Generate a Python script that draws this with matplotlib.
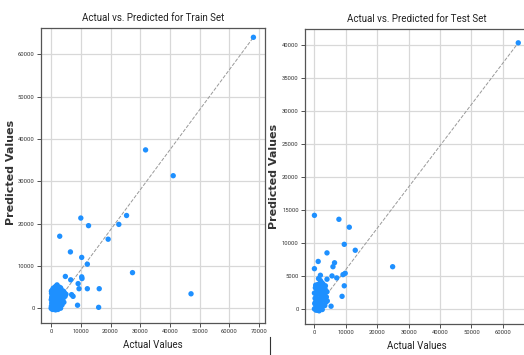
import matplotlib
matplotlib.use("Agg")
import matplotlib.pyplot as plt
from matplotlib.lines import Line2D

plt.rcParams['font.family'] = ['Roboto', 'DejaVu Sans']

# ---- Train set: outliers (actual, predicted) ----
train_actual_out = [68100, 31800, 41100, 10000, 12600, 25400, 22800, 2900, 19200, 6500,
                    10300, 12200, 27400, 4800, 6600, 10300, 10400, 9100, 9400, 12200,
                    16200, 6900, 7400, 8900, 16000, 47100]
train_pred_out = [64000, 37400, 31300, 21300, 19500, 21900, 19800, 17000, 16300, 13300,
                  12000, 10400, 8400, 7500, 6700, 7400, 7000, 5800, 4600, 4600,
                  4600, 3200, 2800, 700, 200, 3400]
# ---- Train set: dense cluster near origin ----
train_actual_cl = [0, 100, 200, 50, 300, 150, 100, 400, 600, 800, 500, 700, 900, 1000, 1200,
                   1400, 1600, 1800, 2000, 2200, 1500, 2000, 2500, 2200, 2600, 2800, 3000,
                   3200, 3500, 3800, 4200, 4500, 5000, 3000, 3500, 4000, 4700, 2400, 1100,
                   600, 300, 1300, 1700, 2700, 3400, 300, 1000, 2300, 3200, 3700, 4300, 800,
                   1600, 1900, 1300, 2100, 2900, 3300, 4000, 500, 200, 700, 2500]
train_pred_cl = [0, 500, 1200, 2000, 2800, 3500, 4000, 200, -300, 300, 1500, 2400, 3200, 800,
                 1800, 2600, 3600, 4600, 5500, 4900, -400, 300, 1000, 1800, 2700, 3500, 4300,
                 4800, 3800, 3300, 4000, 3600, 3300, 600, 1500, 2200, 2800, 4100, 4300, 3800,
                 4200, 5000, 5200, 5000, 4400, -200, -200, -300, 0, 800, 1400, 1300, 1100,
                 2100, 3000, 3200, 2300, 2900, 3000, 600, 2500, 4700, 200]

# ---- Test set: outliers ----
test_actual_out = [64900, 0, 7800, 11100, 9500, 13000, 4000, 1200, 6400, 5900, 0, 24900,
                   1900, 1300, 4000, 5600, 7100, 9100, 9800, 9500, 8800, 5300]
test_pred_out = [40400, 14200, 13600, 12400, 9800, 8900, 8500, 7200, 7000, 6400, 6100, 6400,
                 5100, 4600, 4500, 5000, 4700, 5200, 5400, 3500, 1900, 400]
# ---- Test set: dense cluster ----
test_actual_cl = [0, 100, 200, 0, 300, 500, 700, 600, 800, 900, 1000, 1200, 1300, 1400, 1600,
                  1800, 2000, 2100, 2200, 2400, 2600, 2800, 3000, 3200, 3400, 3600, 3800, 4000,
                  3500, 1100, 400, 2500, 1500, 500, 300, 1700, 2900, 4100, 2300, 1900, 2700, 3300]
test_pred_cl = [0, 800, 1600, 2400, 3200, 300, 1200, 2000, 2800, 3400, -200, 600, 1500, 2300,
                3000, 3500, 200, 1100, 1900, 2600, 3300, 500, 1400, 2200, 3000, 1000, 1800,
                2600, 3500, 3700, 3600, -100, -300, -200, 1000, 700, 2800, 1200, 4000, 4300,
                3800, 500]

train_x_ticks = [0, 10000, 20000, 30000, 40000, 50000, 60000, 70000]
train_y_ticks = [0, 10000, 20000, 30000, 40000, 50000, 60000]
test_x_ticks = [0, 10000, 20000, 30000, 40000, 50000, 60000]
test_y_ticks = [0, 5000, 10000, 15000, 20000, 25000, 30000, 35000, 40000]

W, H = 524, 355
fig = plt.figure(figsize=(W / 100, H / 100), dpi=100)


def px_axes(l, r, t, b):
    return fig.add_axes([l / W, 1 - b / H, (r - l) / W, (b - t) / H])


def style(ax, actual, pred, title, xticks, yticks, xlim, ylim):
    ax.set_axisbelow(True)
    ax.grid(True, color='#d8d8d8', linewidth=0.9)
    ax.scatter(actual, pred, s=15, color='#1E90FF', edgecolors='none', zorder=3)
    ax.plot([min(actual), max(actual)], [min(pred), max(pred)],
            color='#999999', linestyle='--', linewidth=0.7, zorder=2)
    ax.set_xticks(xticks)
    ax.set_yticks(yticks)
    ax.set_xlim(*xlim)
    ax.set_ylim(*ylim)
    ax.tick_params(labelsize=4.2, length=3, width=0.6, colors='#333333', pad=1.5)
    for s in ax.spines.values():
        s.set_color('#555555')
        s.set_linewidth(0.9)
    ax.spines['right'].set_visible(False)
    ax.set_title(title, fontsize=7, pad=5, color='#222222')
    ax.set_xlabel('Actual Values', fontsize=7, color='#222222')
    ax.set_ylabel('Predicted Values', fontsize=8, fontweight='bold',
                  family=['DejaVu Sans'], color='#333333')


ax1 = px_axes(41, 265, 28, 323)
style(ax1, train_actual_out + train_actual_cl, train_pred_out + train_pred_cl,
      'Actual vs. Predicted for Train Set', train_x_ticks, train_y_ticks,
      (-3400, 72000), (-3500, 66200))
ax1.spines['right'].set_visible(True)
ax1.xaxis.set_label_coords(0.5, -0.075)
ax1.xaxis.label.set_va('center')
ax1.yaxis.set_label_coords(-0.136, 0.51)
ax1.yaxis.label.set_va('center')

ax2 = px_axes(305, 528, 29, 324)
style(ax2, test_actual_out + test_actual_cl, test_pred_out + test_pred_cl,
      'Actual vs. Predicted for Test Set', test_x_ticks, test_y_ticks,
      (-3000, 68000), (-2300, 42500))
ax2.xaxis.set_label_coords(0.5, -0.075)
ax2.xaxis.label.set_va('center')
ax2.yaxis.set_label_coords(-0.14, 0.5)
ax2.yaxis.label.set_va('center')

fig.add_artist(Line2D([270 / W, 270 / W], [0, 1 - 337 / H], color='#333333',
                      linewidth=0.8, transform=fig.transFigure))

fig.savefig('out.png', dpi=100)
